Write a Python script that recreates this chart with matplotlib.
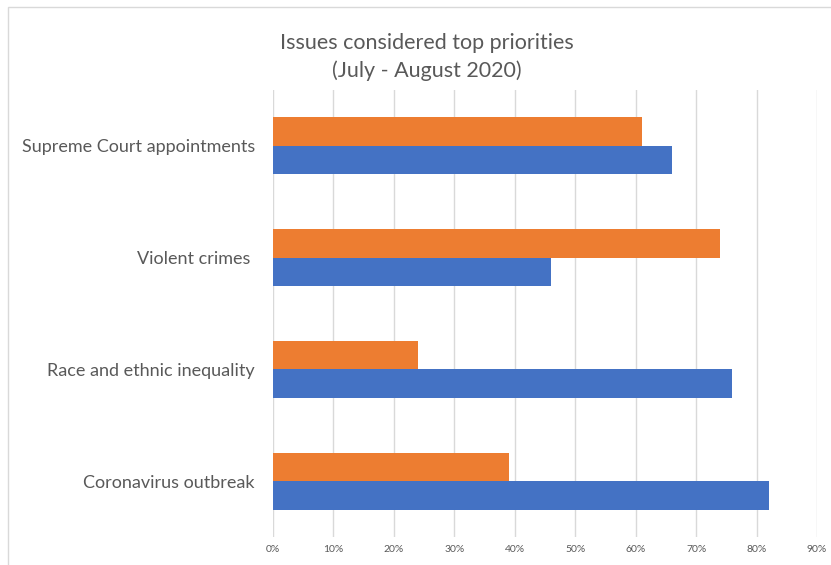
import numpy as np
import matplotlib.pyplot as plt
from matplotlib.patches import Rectangle

categories = ["Coronavirus outbreak", "Race and ethnic inequality", "Violent crimes ", "Supreme Court appointments"]
blue_vals = [82, 76, 46, 66]
orange_vals = [39, 24, 74, 61]
tick_vals = [0, 10, 20, 30, 40, 50, 60, 70, 80, 90]

plt.rcParams['font.family'] = ['Lato', 'DejaVu Sans']
grey = "#595959"

fig = plt.figure(figsize=(8.31, 5.65), dpi=100)
ax = fig.add_axes([273/831, 1-537/565, 544/831, 447/565])

y = np.arange(len(categories))
h = 0.255
ax.barh(y + h/2, orange_vals, height=h, color="#ED7D31", zorder=3)
ax.barh(y - h/2, blue_vals, height=h, color="#4472C4", zorder=3)

ax.set_xlim(0, 90)
ax.set_ylim(-0.5, 3.5)
ax.set_xticks(tick_vals)
ax.set_xticklabels([f"{v}%" for v in tick_vals], fontsize=7.5, color=grey)
ax.set_yticks(y)
ax.set_yticklabels(categories, fontsize=13, color=grey)
ax.tick_params(axis='both', length=0)
ax.tick_params(axis='x', pad=6)
ax.tick_params(axis='y', pad=13)
ax.grid(axis='x', color="#d9d9d9", linewidth=1, zorder=0)
for s in ax.spines.values():
    s.set_visible(False)

fig.text(427/831, 1-43/565, "Issues considered top priorities", ha='center', va='center',
         fontsize=15.5, color=grey)
fig.text(427/831, 1-71/565, "(July - August 2020)", ha='center', va='center',
         fontsize=15.5, color=grey)

# chart area frame
fig.patches.append(Rectangle((8/831, -0.1), 1.2, 1 - 7/565 + 0.1, transform=fig.transFigure,
                             fill=False, edgecolor="#d9d9d9", linewidth=1))

fig.savefig("out.png", dpi=100)
